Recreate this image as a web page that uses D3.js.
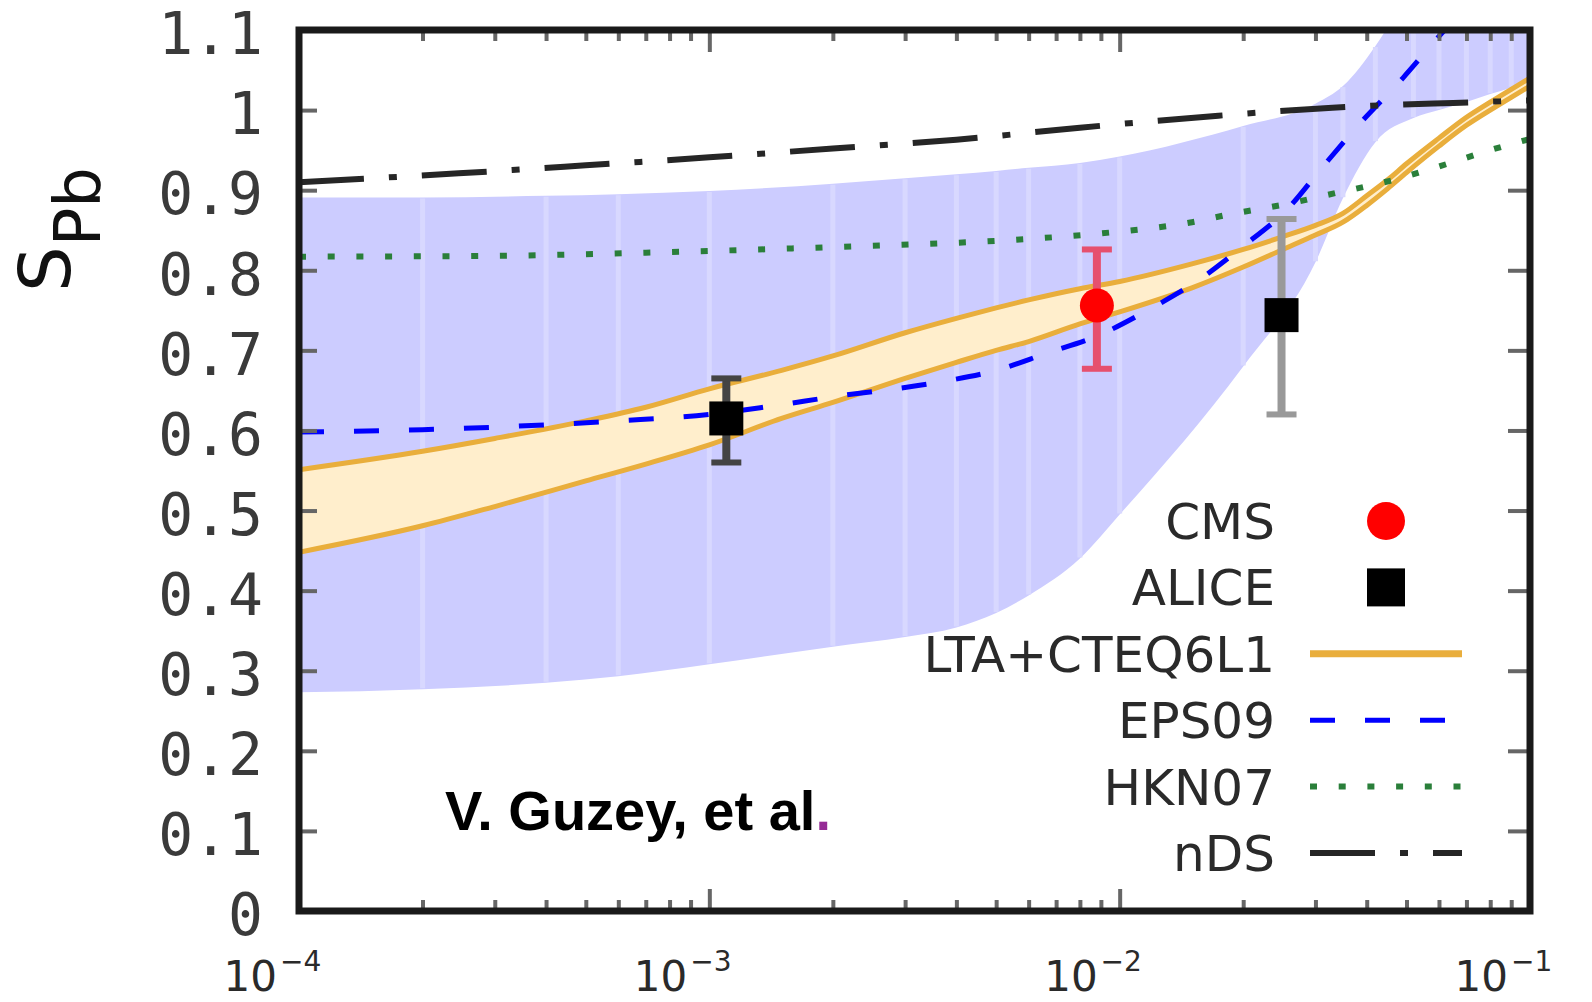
<!DOCTYPE html>
<html><head><meta charset="utf-8">
<script src="https://cdn.jsdelivr.net/npm/d3@7"></script>
<style>html,body{margin:0;padding:0;background:#fff;} svg{display:block;}</style>
</head><body>
<svg id="chart" width="1592" height="1002"></svg>
<script>
// ---------------- data ----------------
const xDecades = [1e-4, 1e-3, 1e-2, 1e-1];
const xDecadeExponents = ["\u22124", "\u22123", "\u22122", "\u22121"];
const yTickValues = [0, 0.1, 0.2, 0.3, 0.4, 0.5, 0.6, 0.7, 0.8, 0.9, 1.0, 1.1];
const yTickLabels = ["0", "0.1", "0.2", "0.3", "0.4", "0.5", "0.6", "0.7", "0.8", "0.9", "1", "1.1"];

// EPS09 uncertainty band
const epsBandX    = [1e-4, 2e-4, 4e-4, 6e-4, 1e-3, 2e-3, 3e-3, 4e-3, 5e-3, 6e-3, 8e-3, 1e-2, 2e-2, 3e-2, 3.5e-2, 4.2e-2, 5.2e-2, 6e-2, 7e-2, 8e-2, 9e-2, 1e-1];
const epsBandLow  = [0.273, 0.277, 0.285, 0.293, 0.308, 0.330, 0.342, 0.354, 0.372, 0.394, 0.440, 0.495, 0.680, 0.810, 0.890, 0.960, 0.990, 1.000, 1.010, 1.020, 1.028, 1.035];
const epsBandHigh = [0.891, 0.891, 0.893, 0.895, 0.899, 0.908, 0.915, 0.920, 0.924, 0.928, 0.934, 0.942, 0.980, 1.008, 1.030, 1.080, 1.160, 1.220, 1.280, 1.330, 1.370, 1.400];

// LTA + CTEQ6L1 band
const ltaX    = [1e-4, 2e-4, 3e-4, 5e-4, 7e-4, 1e-3, 1.5e-3, 2e-3, 3e-3, 4e-3, 5e-3, 6e-3, 8e-3, 1e-2, 1.5e-2, 2e-2, 2.5e-2, 3e-2, 3.5e-2, 4e-2, 4.5e-2, 5e-2, 6e-2, 7e-2, 8e-2, 9e-2, 1e-1];
const ltaHigh = [0.551, 0.574, 0.590, 0.612, 0.629, 0.652, 0.675, 0.693, 0.722, 0.740, 0.753, 0.763, 0.777, 0.786, 0.808, 0.826, 0.842, 0.856, 0.871, 0.893, 0.913, 0.933, 0.965, 0.991, 1.010, 1.026, 1.040];
const ltaLow  = [0.448, 0.481, 0.505, 0.537, 0.558, 0.582, 0.615, 0.635, 0.665, 0.685, 0.700, 0.711, 0.733, 0.748, 0.778, 0.804, 0.826, 0.844, 0.860, 0.881, 0.902, 0.922, 0.955, 0.981, 1.000, 1.016, 1.030];

// EPS09 central
const eps09X = [1e-4, 2e-4, 4e-4, 6e-4, 1e-3, 1.4e-3, 2e-3, 3.5e-3, 5e-3, 6.6e-3, 9e-3, 1.17e-2, 1.58e-2, 2e-2, 2.57e-2, 3.1e-2, 3.8e-2, 4.9e-2, 6e-2, 7e-2, 1e-1];
const eps09Y = [0.598, 0.601, 0.607, 0.612, 0.620, 0.630, 0.642, 0.659, 0.675, 0.696, 0.720, 0.750, 0.790, 0.830, 0.877, 0.927, 0.980, 1.040, 1.092, 1.130, 1.220];

// HKN07
const hknX = [1e-4, 3e-4, 7e-4, 2e-3, 5.5e-3, 9e-3, 1.5e-2, 1.86e-2, 2.63e-2, 3.2e-2, 4.66e-2, 6.3e-2, 8e-2, 1e-1];
const hknY = [0.817, 0.818, 0.822, 0.829, 0.838, 0.846, 0.860, 0.870, 0.884, 0.894, 0.913, 0.933, 0.950, 0.964];

// nDS
const ndsX = [1e-4, 2.45e-4, 5e-4, 1e-3, 2e-3, 4e-3, 8e-3, 1.74e-2, 3.3e-2, 6.5e-2, 1e-1];
const ndsY = [0.910, 0.921, 0.931, 0.941, 0.952, 0.963, 0.978, 0.993, 1.003, 1.009, 1.012];

// measurements
const cmsX = [8.8e-3], cmsY = [0.756], cmsErrLo = [0.079], cmsErrHi = [0.070];
const aliceX = [1.1e-3, 2.48e-2], aliceY = [0.615, 0.744], aliceErrLo = [0.055, 0.124], aliceErrHi = [0.050, 0.120];
const aliceErrColors = ["#444", "#999"];

const legendLabels = ["CMS", "ALICE", "LTA+CTEQ6L1", "EPS09", "HKN07", "nDS"];
const annotationText = "V. Guzey, et al";

// ---------------- layout ----------------
const L = 299, R = 1530, T = 30, B = 911;
const svg = d3.select("#chart");
const x = d3.scaleLog().domain([1e-4, 1e-1]).range([L, R]);
const y = d3.scaleLinear().domain([0, 1.1]).range([B, T]);
const curve = d3.curveMonotoneX;

svg.append("defs").append("clipPath").attr("id", "plotclip")
  .append("rect").attr("x", L).attr("y", T).attr("width", R - L).attr("height", B - T);
const plot = svg.append("g").attr("clip-path", "url(#plotclip)");

const zip = (xs, a, b) => xs.map((v, i) => ({x: v, lo: a[i], hi: b ? b[i] : undefined}));

// EPS09 band
const epsBand = zip(epsBandX, epsBandLow, epsBandHigh);
const epsArea = d3.area().curve(curve).x(d => x(d.x)).y0(d => y(d.lo)).y1(d => y(d.hi));
plot.append("path").datum(epsBand).attr("d", epsArea).attr("fill", "#ccccff");
plot.selectAll("line.stripe").data(epsBand.slice(1, -1)).join("line")
  .attr("class", "stripe")
  .attr("x1", d => x(d.x)).attr("x2", d => x(d.x))
  .attr("y1", d => y(d.lo) - 1).attr("y2", d => y(d.hi) + 1)
  .attr("stroke", "#d8d8ff").attr("stroke-width", 5);

// LTA band
const ltaBand = zip(ltaX, ltaLow, ltaHigh);
plot.append("path").datum(ltaBand)
  .attr("d", d3.area().curve(curve).x(d => x(d.x)).y0(d => y(d.lo)).y1(d => y(d.hi)))
  .attr("fill", "#ffeecc");
const ltaColor = "#e9ae3c";
["hi", "lo"].forEach(k => plot.append("path").datum(ltaBand)
  .attr("d", d3.line().curve(curve).x(d => x(d.x)).y(d => y(d[k])))
  .attr("fill", "none").attr("stroke", ltaColor).attr("stroke-width", 5));

// curves
const lineGen = d3.line().curve(curve).x(d => x(d.x)).y(d => y(d.lo));
const eps09Style = {stroke: "#0000ff", width: 5, dash: "25,30"};
const hknStyle = {stroke: "#2a7f3a", width: 6, dash: "7,21.7"};
const ndsStyle = {stroke: "#262626", width: 6, dash: "65,25,8,25"};
function drawCurve(data, st) {
  plot.append("path").datum(data).attr("d", lineGen)
    .attr("fill", "none").attr("stroke", st.stroke).attr("stroke-width", st.width)
    .attr("stroke-dasharray", st.dash);
}
drawCurve(zip(eps09X, eps09Y), eps09Style);
drawCurve(zip(hknX, hknY), hknStyle);
drawCurve(zip(ndsX, ndsY), ndsStyle);

// error bars + markers
function errBar(g, xv, yv, lo, hi, color) {
  const cx = x(xv), capW = 15;
  g.append("line").attr("x1", cx).attr("x2", cx).attr("y1", y(yv - lo)).attr("y2", y(yv + hi))
    .attr("stroke", color).attr("stroke-width", 8);
  [yv - lo, yv + hi].forEach(v => g.append("line")
    .attr("x1", cx - capW).attr("x2", cx + capW).attr("y1", y(v)).attr("y2", y(v))
    .attr("stroke", color).attr("stroke-width", 6));
}
const pts = svg.append("g").attr("clip-path", "url(#plotclip)");
aliceX.forEach((xv, i) => errBar(pts, xv, aliceY[i], aliceErrLo[i], aliceErrHi[i], aliceErrColors[i]));
cmsX.forEach((xv, i) => errBar(pts, xv, cmsY[i], cmsErrLo[i], cmsErrHi[i], "#e6506e"));
pts.selectAll("rect.alice").data(aliceX).join("rect").attr("class", "alice")
  .attr("x", (d) => x(d) - 17).attr("y", (d, i) => y(aliceY[i]) - 17)
  .attr("width", 34).attr("height", 34).attr("fill", "#000");
pts.selectAll("circle.cms").data(cmsX).join("circle").attr("class", "cms")
  .attr("cx", d => x(d)).attr("cy", (d, i) => y(cmsY[i])).attr("r", 17).attr("fill", "#ff0000");

// ---------------- axes ----------------
const minorTicks = [];
xDecades.slice(0, -1).forEach(d => { for (let k = 2; k <= 9; k++) minorTicks.push(d * k); });
const tickColor = "#666";
function styleAxis(g) {
  g.select(".domain").remove();
  g.selectAll(".tick line").attr("stroke", tickColor).attr("stroke-width", 4);
}
svg.append("g").attr("transform", `translate(0,${B})`)
  .call(d3.axisBottom(x).tickValues(minorTicks).tickSize(-11).tickFormat("")).call(styleAxis);
svg.append("g").attr("transform", `translate(0,${T})`)
  .call(d3.axisTop(x).tickValues(minorTicks).tickSize(-11).tickFormat("")).call(styleAxis);
svg.append("g").attr("transform", `translate(0,${T})`)
  .call(d3.axisTop(x).tickValues(xDecades).tickSize(-22).tickFormat("")).call(styleAxis);
const xAxisB = svg.append("g").attr("transform", `translate(0,${B})`)
  .call(d3.axisBottom(x).tickValues(xDecades).tickSize(-22).tickFormat("")).call(styleAxis);
xAxisB.selectAll(".tick").each(function(d, i) {
  const t = d3.select(this).append("text").attr("fill", "#2a2a2a")
    .attr("font-family", "'DejaVu Sans', sans-serif")
    .attr("x", -76).attr("y", 80).attr("text-anchor", "start");
  t.append("tspan").attr("font-size", 42).text("10");
  t.append("tspan").attr("font-size", 28).attr("dx", 3).attr("dy", -20).text(xDecadeExponents[i]);
});

const yAxisL = svg.append("g").attr("transform", `translate(${L},0)`)
  .call(d3.axisLeft(y).tickValues(yTickValues).tickSize(-18).tickPadding(36)
    .tickFormat((d, i) => yTickLabels[i])).call(styleAxis);
yAxisL.selectAll("text").attr("font-family", "'DejaVu Sans Mono', monospace")
  .attr("font-size", 58).attr("fill", "#3a3a3a").attr("dy", "0.41em");
svg.append("g").attr("transform", `translate(${R},0)`)
  .call(d3.axisRight(y).tickValues(yTickValues).tickSize(-22).tickFormat("")).call(styleAxis);

// frame
svg.append("rect").attr("x", L).attr("y", T).attr("width", R - L).attr("height", B - T)
  .attr("fill", "none").attr("stroke", "#1a1a1a").attr("stroke-width", 7);

// y label
const ylab = svg.append("text").attr("transform", "translate(70,292) rotate(-90)")
  .attr("font-family", "'DejaVu Sans', sans-serif").attr("fill", "#111");
ylab.append("tspan").attr("font-size", 72).text("S");
ylab.append("tspan").attr("font-size", 64).attr("dy", 30).text("Pb");

// annotation
const ann = svg.append("text").attr("x", 445).attr("y", 830)
  .attr("font-family", "'Liberation Sans', Arial, sans-serif").attr("font-weight", "bold")
  .attr("font-size", 56).attr("fill", "#000");
ann.append("tspan").text(annotationText);
ann.append("tspan").attr("fill", "#952a95").text(".");

// ---------------- legend ----------------
const legTop = 521, legStep = 66.4, legTextX = 1275, legX0 = 1310, legX1 = 1462, legMid = 1386;
const leg = svg.append("g");
legendLabels.forEach((lab, i) => {
  const cy = legTop + i * legStep;
  leg.append("text").attr("x", legTextX).attr("y", cy + 18).attr("text-anchor", "end")
    .attr("font-family", "'DejaVu Sans', sans-serif").attr("font-size", 50).attr("fill", "#2a2a2a").text(lab);
  if (i === 0) {
    leg.append("circle").attr("cx", legMid).attr("cy", cy).attr("r", 19).attr("fill", "#ff0000");
  } else if (i === 1) {
    leg.append("rect").attr("x", legMid - 19).attr("y", cy - 19).attr("width", 38).attr("height", 38).attr("fill", "#000");
  } else {
    const st = i === 2 ? {stroke: ltaColor, width: 7, dash: null} : i === 3 ? eps09Style : i === 4 ? hknStyle : ndsStyle;
    leg.append("line").attr("x1", legX0).attr("x2", legX1).attr("y1", cy).attr("y2", cy)
      .attr("stroke", st.stroke).attr("stroke-width", st.width).attr("stroke-dasharray", st.dash);
  }
});
</script>
</body></html>
